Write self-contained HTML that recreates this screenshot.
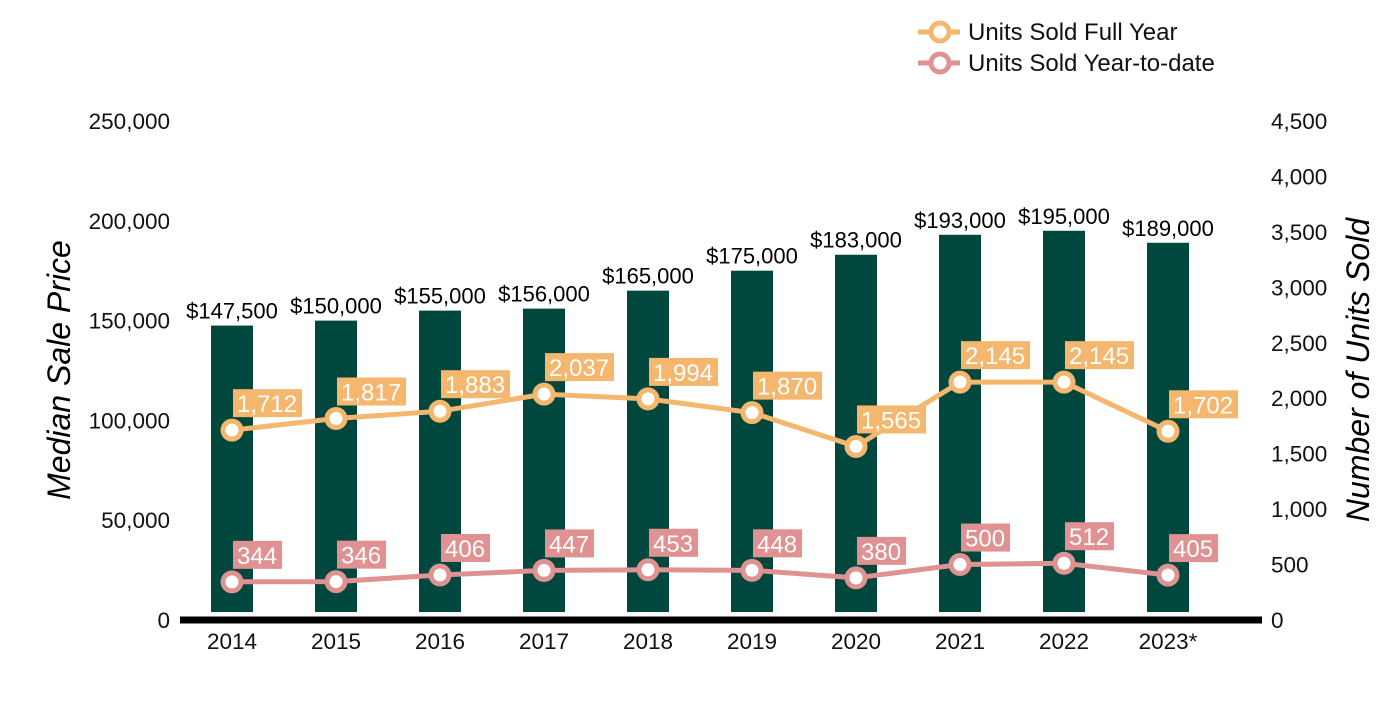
<!DOCTYPE html>
<html><head><meta charset="utf-8"><style>
body{margin:0;background:#fff}
svg text{font-family:"Liberation Sans",Arial,sans-serif}
</style></head><body>
<svg id="chart" width="1400" height="700" xmlns="http://www.w3.org/2000/svg">
<g id="legend">
 <g>
  <line x1="918" y1="32" x2="960" y2="32" stroke="#F5B66E" stroke-width="5"/>
  <circle cx="940" cy="32" r="9" fill="#fff" stroke="#F5B66E" stroke-width="5"/>
  <text x="968" y="40" font-size="24" fill="#111">Units Sold Full Year</text>
 </g>
 <g>
  <line x1="918" y1="63" x2="960" y2="63" stroke="#E09192" stroke-width="5"/>
  <circle cx="940" cy="63" r="9" fill="#fff" stroke="#E09192" stroke-width="5"/>
  <text x="968" y="71" font-size="24" fill="#111">Units Sold Year-to-date</text>
 </g>
</g>
<text transform="translate(70,370) rotate(-90)" text-anchor="middle" font-size="32" font-style="italic" fill="#000">Median Sale Price</text>
<text transform="translate(1369,370) rotate(-90)" text-anchor="middle" font-size="32" font-style="italic" fill="#000">Number of Units Sold</text>
<g id="g"></g>
</svg>
<script>
const years=["2014","2015","2016","2017","2018","2019","2020","2021","2022","2023*"];
const prices=[147500,150000,155000,156000,165000,175000,183000,193000,195000,189000];
const fullYear=[1712,1817,1883,2037,1994,1870,1565,2145,2145,1702];
const ytd=[344,346,406,447,453,448,380,500,512,405];
const leftTicks=[0,50000,100000,150000,200000,250000];
const rightTicks=[0,500,1000,1500,2000,2500,3000,3500,4000,4500];
const NS="http://www.w3.org/2000/svg";
const g=document.getElementById('g');
const y0=620,ytop=121;
const yL=v=>y0-(y0-ytop)*v/250000;
const yR=v=>y0-(y0-ytop)*v/4500;
const xC=i=>232+i*104;
const fmt=v=>v.toLocaleString('en-US');
function mk(t,a,p){const e=document.createElementNS(NS,t);for(const k in a)e.setAttribute(k,a[k]);(p||g).appendChild(e);return e;}
leftTicks.forEach(v=>{const t=mk('text',{x:170,y:yL(v)+8,'text-anchor':'end','font-size':22.5,fill:'#111'});t.textContent=fmt(v);

});
rightTicks.forEach(v=>{const t=mk('text',{x:1271,y:yR(v)+8,'font-size':22.5,fill:'#111'});t.textContent=fmt(v);

});
prices.forEach((v,i)=>{const r=mk('rect',{x:xC(i)-21,y:yL(v),width:42,height:612-yL(v),fill:'#00473E'});


const t=mk('text',{x:xC(i),y:yL(v)-7,'text-anchor':'middle','font-size':22,fill:'#000'});t.textContent='$'+fmt(v);


const x=mk('text',{x:xC(i),y:649,'text-anchor':'middle','font-size':22.5,fill:'#111'});x.textContent=years[i];

});
const ax=mk('line',{x1:180,y1:620,x2:1262,y2:620,stroke:'#000','stroke-width':7});


function series(vals,col,name){
 const pl=mk('polyline',{points:vals.map((v,i)=>xC(i)+','+yR(v)).join(' '),fill:'none',stroke:col,'stroke-width':5});
 
 
 vals.forEach((v,i)=>{const c=mk('circle',{cx:xC(i),cy:yR(v),r:9,fill:'#fff',stroke:col,'stroke-width':5});
 
 
 const s=fmt(v);
 const b=mk('rect',{x:xC(i)+1,y:yR(v)-41,width:10,height:28,fill:col});
 
 
 const t=mk('text',{x:xC(i)+5,y:yR(v)-18,'font-size':24,fill:'#fff'});t.textContent=s;
 
 
 b.setAttribute('width',t.getComputedTextLength()+9);});
}
series(fullYear,'#F5B66E','full-year');
series(ytd,'#E09192','year-to-date');
</script>
</body></html>
